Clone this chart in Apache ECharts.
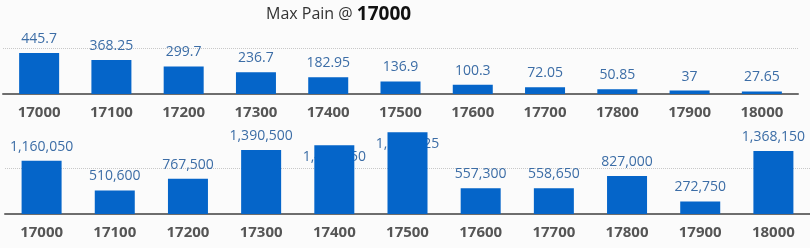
<!DOCTYPE html>
<html><head><meta charset="utf-8">
<script src="https://cdn.jsdelivr.net/npm/echarts@6/dist/echarts.min.js"></script>
<style>html,body{margin:0;padding:0;background:#fbfbfb}#c{width:810px;height:248px}</style>
</head><body><div id="c"></div>
<script>
var strikes = ['17000','17100','17200','17300','17400','17500','17600','17700','17800','17900','18000'];
var painValues = [445.7, 368.25, 299.7, 236.7, 182.95, 136.9, 100.3, 72.05, 50.85, 37, 27.65];
var oiValues = [1160050, 510600, 767500, 1390500, 1496850, 1775325, 557300, 558650, 827000, 272750, 1368150];
var maxPainStrike = '17000';

var BAR = '#0565c9', LBL = '#3c6da6';
function fmt(v){ return v.toLocaleString('en-US'); }
function labelData(vals, flipAbove){
  return vals.map(function(v){
    var flip = v > flipAbove;
    return {value: v, label: {position: flip ? 'insideTop' : 'top', distance: flip ? 5 : 7}};
  });
}
var xCommon = {
  type: 'category', boundaryGap: true,
  axisLine: {lineStyle: {color: '#6e6e6e', width: 2}},
  axisTick: {show: false},
  axisLabel: {color: '#555', fontFamily: 'Open Sans', fontWeight: 'bold', fontSize: 15, margin: 11}
};
var yCommon = {
  type: 'value', min: 0, axisLabel: {show: false}, axisLine: {show: false}, axisTick: {show: false},
  splitLine: {show: true, showMinLine: false, showMaxLine: false, lineStyle: {color: '#c8c8c8', type: 'dotted'}}
};
var labelStyle = {show: true, color: LBL, fontFamily: 'Open Sans', fontSize: 14};
var chart = echarts.init(document.getElementById('c'), null, {renderer: 'canvas'});
chart.setOption({
  backgroundColor: '#fbfbfb',
  animation: false,
  title: {
    left: 261, top: 0,
    text: '{n|Max Pain @ }{b|' + maxPainStrike + '}',
    textStyle: {fontWeight: 'normal', rich: {
      n: {fontFamily: 'Open Sans', fontSize: 16, fontWeight: 'normal', color: '#333'},
      b: {fontFamily: 'Open Sans', fontSize: 19, fontWeight: 'bold', color: '#111'}
    }}
  },
  grid: [
    {left: 3, right: 12, top: 2, height: 92},
    {left: 5, right: 0, top: 122, height: 92}
  ],
  xAxis: [
    Object.assign({gridIndex: 0, data: strikes}, xCommon),
    Object.assign({gridIndex: 1, data: strikes}, xCommon)
  ],
  yAxis: [
    Object.assign({gridIndex: 0, max: 1000, interval: 500}, yCommon),
    Object.assign({gridIndex: 1, max: 2000000, interval: 1000000}, yCommon)
  ],
  series: [
    {type: 'bar', xAxisIndex: 0, yAxisIndex: 0, barWidth: 40, barGap: '-100%', z: 2,
     data: painValues, itemStyle: {color: BAR},
     label: Object.assign({position: 'top', distance: 7, formatter: function(p){return String(p.value);}}, labelStyle)},
    {type: 'bar', xAxisIndex: 1, yAxisIndex: 1, barWidth: 40, barGap: '-100%', z: 1, silent: true,
     data: labelData(oiValues, 1450000), itemStyle: {color: 'rgba(0,0,0,0)'},
     label: Object.assign({formatter: function(p){return fmt(p.value);}}, labelStyle)},
    {type: 'bar', xAxisIndex: 1, yAxisIndex: 1, barWidth: 40, barGap: '-100%', z: 3,
     data: oiValues, itemStyle: {color: BAR}}
  ]
});
</script></body></html>
